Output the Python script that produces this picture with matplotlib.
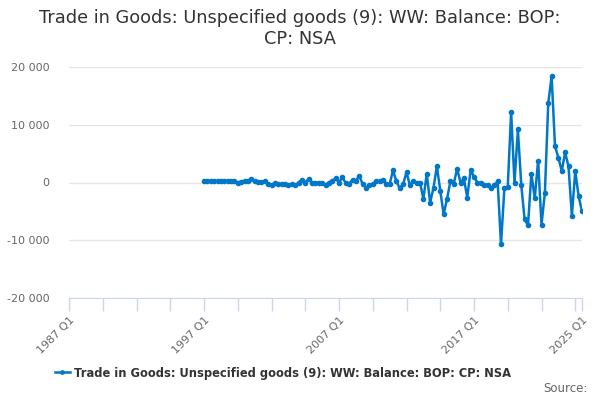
import pandas as pd
import matplotlib.pyplot as plt

# Quarterly balance, 1997 Q1 to 2025 Q1 (GBP million)
quarters = pd.period_range("1997Q1", "2025Q1", freq="Q")
values = [
    300, 300, 250, 300, 250, 300, 250, 300, 200, 250, 0, 100, 300, 300, 600, 300, 100,
    100, 200, -200, -400, -100, -200, -300, -300, -400, -300, -500, 0, 500, 0, 600, 0, 0,
    0, -100, -400, 0, 300, 700, 0, 900, -100, -200, 500, 300, 1200, -300, -900, -500, -300, 200,
    200, 500, -200, -300, 2100, 200, -1000, -300, 1800, -500, 200, -50, -50, -2800, 1500,
    -3500, -900, 2800, -1400, -5500, -2900, 200, -200, 2400, 0, 700, -2600, 2100, 1000, 0,
    -50, -500, -400, -1000, -500, 200, -10700, -1000, -800, 12200, 0, 9200, -400, -6400,
    -7400, 1500, -2700, 3800, -7300, -1800, 13700, 18400, 6300, 4300, 2000, 5200, 2800,
    -5800, 2000, -2400, -5000,
]

title = "Trade in Goods: Unspecified goods (9): WW: Balance: BOP:\nCP: NSA"
series_name = "Trade in Goods: Unspecified goods (9): WW: Balance: BOP: CP: NSA"
x_labels = ["1987 Q1", "1997 Q1", "2007 Q1", "2017 Q1", "2025 Q1"]
x_label_pos = [1987, 1997, 2007, 2017, 2025]
y_ticks = [-20000, -10000, 0, 10000, 20000]

x = [q.year + (q.quarter - 1) / 4 for q in quarters]

fig = plt.figure(figsize=(6, 4), dpi=100)
ax = fig.add_axes([69 / 600, 1 - 298 / 400, (582 - 69) / 600, (298 - 67) / 400])

ax.plot(x, values, color="#0077C8", linewidth=1.8, marker="o", markersize=3,
        label=series_name, zorder=3)

ax.set_xlim(1987, 2025)
ax.set_ylim(-20000, 20000)

# gridlines and axis styling
ax.set_yticks(y_ticks)
ax.set_yticklabels([f"{v:,}".replace(",", " ") for v in y_ticks])
ax.yaxis.grid(True, color="#e6e6e6", linewidth=1)
ax.set_axisbelow(True)
ax.tick_params(axis="y", length=0, labelsize=8, labelcolor="#666666", pad=14)

ax.set_xticks(x_label_pos)
ax.set_xticks([1987 + 2.5 * k for k in range(16)], minor=True)
ax.set_xticklabels(x_labels)
ax.tick_params(axis="x", which="both", length=9, color="#ccd6eb", width=1,
               labelsize=8, labelcolor="#666666", pad=3)
for lbl in ax.get_xticklabels():
    lbl.set_rotation(45)
    lbl.set_ha("right")
    lbl.set_rotation_mode("anchor")

for side in ["top", "right", "left"]:
    ax.spines[side].set_visible(False)
ax.spines["bottom"].set_color("#ccd6eb")

fig.suptitle(title, x=0.5, y=1 - 9 / 400, va="top", fontsize=12.8, color="#333333")

fig.legend(loc="center", bbox_to_anchor=(283 / 600, 1 - 373 / 400), frameon=False,
           prop={"weight": "bold", "size": 8.3}, labelcolor="#333333",
           handlelength=1.3, handletextpad=0.4, markerscale=0.8)

fig.text(0.98, 1 - 389 / 400, "Source:", ha="right", va="center",
         fontsize=8.5, color="#666666")

fig.savefig("out.png", dpi=100)
